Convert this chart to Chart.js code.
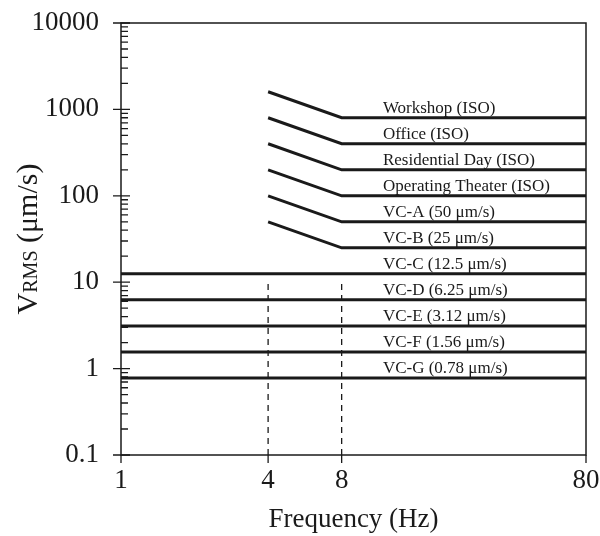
<!DOCTYPE html>
<html>
<head>
<meta charset="utf-8">
<script src="https://cdn.jsdelivr.net/npm/chart.js@4.4.1/dist/chart.umd.min.js"></script>
<style>
    html, body { margin: 0; padding: 0; background: #fff; }
    #wrap { width: 600px; height: 536px; }
</style>
</head>
<body>
<div id="wrap"><canvas id="chart-vc"></canvas></div>
<script>
// ISO curves: slope from 4 Hz to 8 Hz, flat to 80 Hz
var isoNames = ['Workshop (ISO)', 'Office (ISO)', 'Residential Day (ISO)', 'Operating Theater (ISO)', 'VC-A (50 \u03bcm/s)', 'VC-B (25 \u03bcm/s)'];
var isoStart = [1600, 800, 400, 200, 100, 50];
var isoFlat = [800, 400, 200, 100, 50, 25];
var isoFreq = [4, 8, 80];

// VC curves: flat over the full range
var vcNames = ['VC-C (12.5 \u03bcm/s)', 'VC-D (6.25 \u03bcm/s)', 'VC-E (3.12 \u03bcm/s)', 'VC-F (1.56 \u03bcm/s)', 'VC-G (0.78 \u03bcm/s)'];
var vcFlat = [12.5, 6.25, 3.12, 1.56, 0.78];
var vcFreq = [1, 80];

// dashed markers
var dashFreq = [4, 8];
var dashRange = [0.1, 10.5];

var xTicks = [1, 4, 8, 80];
var yTicks = [0.1, 1, 10, 100, 1000, 10000];
var labelFreq = 11.8;

var serif = "'Liberation Serif', 'Times New Roman', serif";
var ink = '#1a1a1a';

function buildDatasets() {
    var sets = [];
    var i;
    for (i = 0; i < isoNames.length; i++) {
        sets.push({
            label: isoNames[i],
            data: [
                {x: isoFreq[0], y: isoStart[i]},
                {x: isoFreq[1], y: isoFlat[i]},
                {x: isoFreq[2], y: isoFlat[i]}
            ],
            level: isoFlat[i]
        });
    }
    for (i = 0; i < vcNames.length; i++) {
        sets.push({
            label: vcNames[i],
            data: [{x: vcFreq[0], y: vcFlat[i]}, {x: vcFreq[1], y: vcFlat[i]}],
            level: vcFlat[i]
        });
    }
    sets.forEach(function(s) {
        s.showLine = true;
        s.borderColor = ink;
        s.borderWidth = 3;
        s.pointRadius = 0;
        s.fill = false;
    });
    dashFreq.forEach(function(f) {
        sets.push({
            label: '',
            data: [{x: f, y: dashRange[0]}, {x: f, y: dashRange[1]}],
            showLine: true,
            borderColor: ink,
            borderWidth: 1.3,
            borderDash: [6, 5],
            pointRadius: 0
        });
    });
    return sets;
}

// frame, tick marks, curve names and y title
var decor = {
    id: 'decor',
    afterDatasetsDraw: function(chart) {
        var ctx = chart.ctx;
        var a = chart.chartArea;
        var xs = chart.scales.x;
        var ys = chart.scales.y;
        ctx.save();
        ctx.strokeStyle = ink;
        ctx.lineWidth = 1.5;
        ctx.strokeRect(a.left, a.top, a.right - a.left, a.bottom - a.top);

        ctx.lineWidth = 1.3;
        ctx.beginPath();
        for (var d = 0; d < yTicks.length; d++) {
            var base = yTicks[d];
            var py = ys.getPixelForValue(base);
            ctx.moveTo(a.left - 8, py);
            ctx.lineTo(a.left + 9, py);
            if (d < yTicks.length - 1) {
                for (var m = 2; m <= 9; m++) {
                    var my = ys.getPixelForValue(base * m);
                    ctx.moveTo(a.left, my);
                    ctx.lineTo(a.left + 7, my);
                }
            }
        }
        xTicks.forEach(function(t) {
            var px = xs.getPixelForValue(t);
            ctx.moveTo(px, a.bottom);
            ctx.lineTo(px, a.bottom + 8);
        });
        ctx.stroke();

        // curve names
        ctx.fillStyle = ink;
        ctx.font = '17px ' + serif;
        ctx.textAlign = 'left';
        ctx.textBaseline = 'alphabetic';
        var lx = xs.getPixelForValue(labelFreq);
        chart.data.datasets.forEach(function(s) {
            if (!s.level) return;
            ctx.fillText(s.label, lx, ys.getPixelForValue(s.level) - 5);
        });

        // y title with RMS subscript
        var parts = [['V', '30px '], ['RMS', '20px '], [' (\u03bcm/s)', '30px ']];
        var total = 0;
        parts.forEach(function(p) {
            ctx.font = p[1] + serif;
            total += ctx.measureText(p[0]).width;
        });
        ctx.translate(37, (a.top + a.bottom) / 2);
        ctx.rotate(-Math.PI / 2);
        var x = -total / 2;
        parts.forEach(function(p) {
            ctx.font = p[1] + serif;
            ctx.fillText(p[0], x, 0);
            x += ctx.measureText(p[0]).width;
        });
        ctx.restore();
    }
};

function chart() {
    var ctx = document.getElementById('chart-vc');
    new Chart(ctx, {
        type: 'scatter',
        data: { datasets: buildDatasets() },
        options: {
            responsive: true,
            maintainAspectRatio: false,
            animation: false,
            layout: { padding: { top: 23, right: 14, bottom: 0, left: 0 } },
            plugins: { legend: { display: false }, tooltip: { enabled: false } },
            scales: {
                x: {
                    type: 'logarithmic',
                    min: 1,
                    max: 80,
                    grid: { display: false, drawTicks: false },
                    border: { display: false },
                    afterBuildTicks: function(scale) {
                        scale.ticks = xTicks.map(function(v) { return {value: v}; });
                    },
                    afterFit: function(scale) {
                        scale.height = 81;
                        scale.paddingLeft = 0;
                        scale.paddingRight = 0;
                    },
                    ticks: {
                        autoSkip: false,
                        maxRotation: 0,
                        padding: 10,
                        color: ink,
                        font: { family: serif, size: 27 },
                        callback: function(v) { return String(v); }
                    },
                    title: {
                        display: true,
                        text: 'Frequency (Hz)',
                        color: ink,
                        font: { family: serif, size: 27 },
                        padding: { top: 0, bottom: 0 }
                    }
                },
                y: {
                    type: 'logarithmic',
                    min: 0.1,
                    max: 10000,
                    grid: { display: false, drawTicks: false },
                    border: { display: false },
                    afterBuildTicks: function(scale) {
                        scale.ticks = yTicks.map(function(v) { return {value: v}; });
                    },
                    afterFit: function(scale) {
                        scale.width = 121;
                        scale.paddingTop = 0;
                        scale.paddingBottom = 0;
                    },
                    ticks: {
                        autoSkip: false,
                        padding: 22,
                        color: ink,
                        font: { family: serif, size: 27 },
                        callback: function(v) { return String(v); }
                    }
                }
            }
        },
        plugins: [decor]
    });
}

chart();
</script>
</body>
</html>
